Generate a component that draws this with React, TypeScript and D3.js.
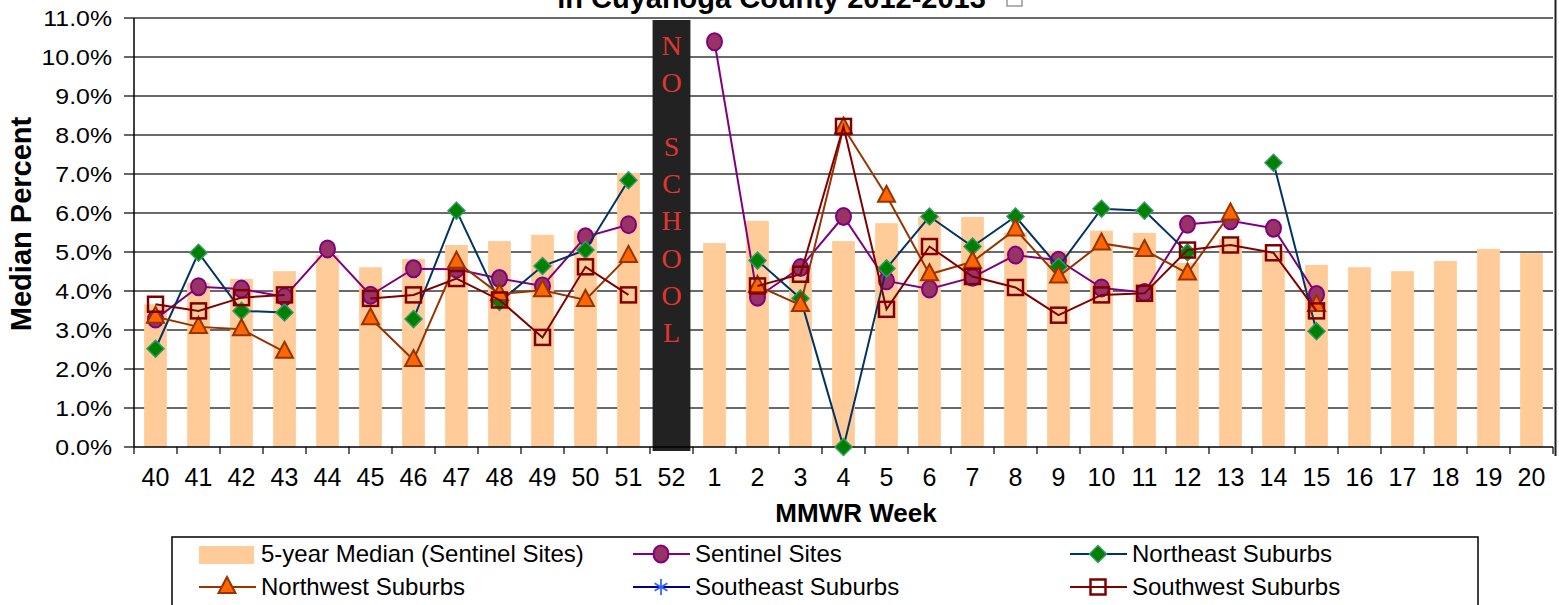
import * as d3 from 'd3';
import React, { useEffect, useRef } from 'react';

// MMWR weeks, season 2012-2013
const weeks = [
  '40', '41', '42', '43', '44', '45', '46', '47', '48', '49', '50', '51', '52',
  '1', '2', '3', '4', '5', '6', '7', '8', '9', '10', '11', '12', '13', '14', '15',
  '16', '17', '18', '19', '20',
];

// values are percent
const median5yr = [
  3.66, 4.21, 4.31, 4.51, 4.92, 4.61, 4.82, 5.18, 5.28, 5.44, 5.55, 7.03, null,
  5.23, 5.8, 4.6, 5.28, 5.74, 5.91, 5.9, 5.5, 5.03, 5.55, 5.49, 4.72, 5.33, 4.99, 4.67,
  4.61, 4.51, 4.77, 5.08, 4.97,
];

const sentinel = [
  3.28, 4.11, 4.05, 3.85, 5.08, 3.89, 4.57, 4.56, 4.32, 4.13, 5.39, 5.7, null,
  10.39, 3.84, 4.6, 5.91, 4.26, 4.05, 4.35, 4.92, 4.79, 4.08, 3.96, 5.71, 5.8, 5.61, 3.91,
  null, null, null, null, null,
];

const northeast = [
  2.52, 4.98, 3.49, 3.45, null, null, 3.28, 6.06, 3.72, 4.64, 5.05, 6.84, null,
  null, 4.78, 3.81, 0.0, 4.58, 5.91, 5.14, 5.91, 4.62, 6.11, 6.06, 4.99, null, 7.29, 2.97,
  null, null, null, null, null,
];

const northwest = [
  3.34, 3.08, 3.02, 2.44, null, 3.3, 2.23, 4.75, 3.92, 4.02, 3.77, 4.9, null,
  null, 4.13, 3.64, 8.19, 6.44, 4.43, 4.75, 5.58, 4.37, 5.22, 5.05, 4.45, 5.99, null, 3.64,
  null, null, null, null, null,
];

const southeast = weeks.map(() => null);

const southwest = [
  3.66, 3.49, 3.83, 3.9, null, 3.81, 3.9, 4.32, 3.77, 2.81, 4.62, 3.9, null,
  null, 4.13, 4.43, 8.22, 3.53, 5.14, 4.37, 4.09, 3.38, 3.9, 3.94, 5.05, 5.18, 4.98, 3.49,
  null, null, null, null, null,
];

const yTicks = d3.range(0, 12);
const noSchoolLetters = ['N', 'O', 'S', 'C', 'H', 'O', 'O', 'L'];

const SANS = '"Liberation Sans", Arial, Helvetica, sans-serif';
const SERIF = '"Liberation Serif", "Times New Roman", serif';

type Shape = 'circle' | 'diamond' | 'triangle' | 'asterisk' | 'square';

const series: Array<{
  name: string;
  values: Array<number | null>;
  line: string;
  shape: Shape;
  fill: string;
  stroke: string;
}> = [
  { name: 'Sentinel Sites', values: sentinel, line: '#800080', shape: 'circle', fill: '#993366', stroke: '#800080' },
  { name: 'Northeast Suburbs', values: northeast, line: '#003366', shape: 'diamond', fill: '#008000', stroke: '#339966' },
  { name: 'Northwest Suburbs', values: northwest, line: '#993300', shape: 'triangle', fill: '#FF6600', stroke: '#993300' },
  { name: 'Southeast Suburbs', values: southeast, line: '#000080', shape: 'asterisk', fill: 'none', stroke: '#3366FF' },
  { name: 'Southwest Suburbs', values: southwest, line: '#800000', shape: 'square', fill: 'none', stroke: '#800000' },
];

function drawMarker(g: any, shape: Shape, cx: number, cy: number, fill: string, stroke: string) {
  if (shape === 'circle') {
    g.append('ellipse').attr('cx', cx).attr('cy', cy).attr('rx', 7.5).attr('ry', 8.5)
      .attr('fill', fill).attr('stroke', stroke).attr('stroke-width', 2);
  } else if (shape === 'diamond') {
    g.append('path')
      .attr('d', `M${cx},${cy - 8.5}L${cx + 8.5},${cy}L${cx},${cy + 8.5}L${cx - 8.5},${cy}Z`)
      .attr('fill', fill).attr('stroke', stroke).attr('stroke-width', 1.5);
  } else if (shape === 'triangle') {
    g.append('path')
      .attr('d', `M${cx},${cy - 10}L${cx + 8.5},${cy + 6}L${cx - 8.5},${cy + 6}Z`)
      .attr('fill', fill).attr('stroke', stroke).attr('stroke-width', 2).attr('stroke-linejoin', 'miter');
  } else if (shape === 'square') {
    g.append('rect').attr('x', cx - 7.5).attr('y', cy - 7.5).attr('width', 15).attr('height', 15)
      .attr('fill', 'none').attr('stroke', stroke).attr('stroke-width', 2.5);
  } else {
    const r = 8;
    const d = r * 0.8;
    g.append('path')
      .attr('d', `M${cx},${cy - r}L${cx},${cy + r}M${cx - d},${cy - d * 0.6}L${cx + d},${cy + d * 0.6}M${cx - d},${cy + d * 0.6}L${cx + d},${cy - d * 0.6}`)
      .attr('fill', 'none').attr('stroke', stroke).attr('stroke-width', 1.8);
  }
}

export default function App() {
  const svgRef = useRef<SVGSVGElement>(null);

  useEffect(() => {
    if (!svgRef.current) return;
    const svg = d3.select(svgRef.current);
    svg.selectAll('*').remove();

    const left = 134;
    const right = 1553;
    const top = 18;
    const bottom = 447;

    const x = d3.scaleBand().domain(weeks).range([left, right]);
    const y = d3.scaleLinear().domain([0, 11]).range([bottom, top]);
    const bw = x.bandwidth();

    // title (only the second line shows at the top edge)
    svg.append('text')
      .attr('x', 771.5).attr('y', 8)
      .attr('text-anchor', 'middle')
      .attr('font-family', SANS).attr('font-size', 29).attr('font-weight', 'bold')
      .text('in Cuyahoga County 2012-2013');
    svg.append('rect')
      .attr('x', 1007).attr('y', -10).attr('width', 15).attr('height', 16)
      .attr('fill', '#fff').attr('stroke', '#999').attr('stroke-width', 1.5);

    // gridlines
    svg.append('g')
      .selectAll('line')
      .data(yTicks.filter(t => t > 0))
      .join('line')
      .attr('x1', left).attr('x2', right)
      .attr('y1', d => y(d)).attr('y2', d => y(d))
      .attr('stroke', '#6a6a6a').attr('stroke-width', 2);

    // 5-year median bars
    const barW = bw * 0.53;
    svg.append('g')
      .selectAll('rect')
      .data(weeks.map((w, i) => ({ w, v: median5yr[i] })).filter(d => d.v != null))
      .join('rect')
      .attr('x', d => (x(d.w) || 0) + (bw - barW) / 2)
      .attr('y', d => y(d.v as number))
      .attr('width', barW)
      .attr('height', d => bottom - y(d.v as number))
      .attr('fill', '#FFCC99');

    // NO SCHOOL block over week 52
    const nsW = bw * 0.88;
    const nsX = (x('52') || 0) + (bw - nsW) / 2;
    svg.append('rect')
      .attr('x', nsX).attr('y', top + 2)
      .attr('width', nsW).attr('height', bottom + 4 - top - 2)
      .attr('fill', '#222222');
    const lineStep = 37.3;
    svg.append('g')
      .selectAll('text')
      .data(noSchoolLetters)
      .join('text')
      .attr('x', nsX + nsW / 2)
      .attr('y', (d, i) => 55 + (i < 2 ? i : i + 0.7) * lineStep)
      .attr('text-anchor', 'middle')
      .attr('font-family', SERIF).attr('font-size', 28)
      .attr('fill', '#E03530')
      .text(d => d);

    // axes
    svg.append('line')
      .attr('x1', left).attr('x2', right).attr('y1', bottom).attr('y2', bottom)
      .attr('stroke', '#000').attr('stroke-width', 1.5);
    svg.append('line')
      .attr('x1', left).attr('x2', left).attr('y1', top).attr('y2', bottom)
      .attr('stroke', '#000').attr('stroke-width', 1.5);
    svg.append('line')
      .attr('x1', 1555.5).attr('x2', 1555.5).attr('y1', 0).attr('y2', 456)
      .attr('stroke', '#222').attr('stroke-width', 2);

    svg.append('g')
      .selectAll('line')
      .data(yTicks)
      .join('line')
      .attr('x1', left - 10).attr('x2', left)
      .attr('y1', d => y(d)).attr('y2', d => y(d))
      .attr('stroke', '#000').attr('stroke-width', 1.2);

    svg.append('g')
      .selectAll('g')
      .data(yTicks)
      .join('g')
      .attr('transform', d => `translate(112,${y(d) + 8}) scale(1.13,1)`)
      .append('text')
      .attr('text-anchor', 'end')
      .attr('font-family', SANS).attr('font-size', 22)
      .text(d => `${d.toFixed(1)}%`);

    svg.append('g')
      .selectAll('line')
      .data(d3.range(weeks.length + 1))
      .join('line')
      .attr('x1', d => left + d * bw).attr('x2', d => left + d * bw)
      .attr('y1', bottom).attr('y2', bottom + 7)
      .attr('stroke', '#000').attr('stroke-width', 1.2);

    svg.append('g')
      .selectAll('text')
      .data(weeks)
      .join('text')
      .attr('x', d => (x(d) || 0) + bw / 2)
      .attr('y', 486)
      .attr('text-anchor', 'middle')
      .attr('font-family', SANS).attr('font-size', 25)
      .text(d => d);

    svg.append('text')
      .attr('x', 856).attr('y', 522)
      .attr('text-anchor', 'middle')
      .attr('font-family', SANS).attr('font-size', 26).attr('font-weight', 'bold')
      .text('MMWR Week');

    svg.append('text')
      .attr('transform', 'translate(31,224) rotate(-90)')
      .attr('text-anchor', 'middle')
      .attr('font-family', SANS).attr('font-size', 29).attr('font-weight', 'bold')
      .text('Median Percent');

    // series lines and markers
    series.forEach(s => {
      const pts = weeks.map((w, i) => ({ w, v: s.values[i] }));
      const line = d3.line<{ w: string; v: number | null }>()
        .defined(d => d.v != null)
        .x(d => (x(d.w) || 0) + bw / 2)
        .y(d => y(d.v as number));
      const g = svg.append('g');
      g.append('path')
        .attr('d', line(pts) || '')
        .attr('fill', 'none')
        .attr('stroke', s.line)
        .attr('stroke-width', 2);
      pts.filter(d => d.v != null).forEach(d => {
        drawMarker(g, s.shape, (x(d.w) || 0) + bw / 2, y(d.v as number), s.fill, s.stroke);
      });
    });

    // legend
    const lg = svg.append('g');
    lg.append('rect')
      .attr('x', 172).attr('y', 537).attr('width', 1306).attr('height', 100)
      .attr('fill', '#fff').attr('stroke', '#000').attr('stroke-width', 1.5);
    const colX = [199, 633, 1070];
    const rowY = [554, 587];
    const entries = [
      { label: '5-year Median (Sentinel Sites)', s: null as any },
      ...series.map(s => ({ label: s.name, s })),
    ];
    entries.forEach((e, i) => {
      const cx0 = colX[i % 3];
      const cy = rowY[Math.floor(i / 3)];
      if (!e.s) {
        lg.append('rect')
          .attr('x', cx0).attr('y', cy - 8).attr('width', 55).attr('height', 18)
          .attr('fill', '#FFCC99');
      } else {
        lg.append('line')
          .attr('x1', cx0).attr('x2', cx0 + 57).attr('y1', cy).attr('y2', cy)
          .attr('stroke', e.s.line).attr('stroke-width', 2);
        drawMarker(lg, e.s.shape, cx0 + 28, cy, e.s.fill, e.s.stroke);
      }
      lg.append('text')
        .attr('x', cx0 + 62).attr('y', cy + 8)
        .attr('font-family', SANS).attr('font-size', 24)
        .text(e.label);
    });
  }, []);

  return (
    <svg
      ref={svgRef}
      width={1559}
      height={605}
      style={{ position: 'absolute', left: 0, top: 0, background: '#fff' }}
    />
  );
}
